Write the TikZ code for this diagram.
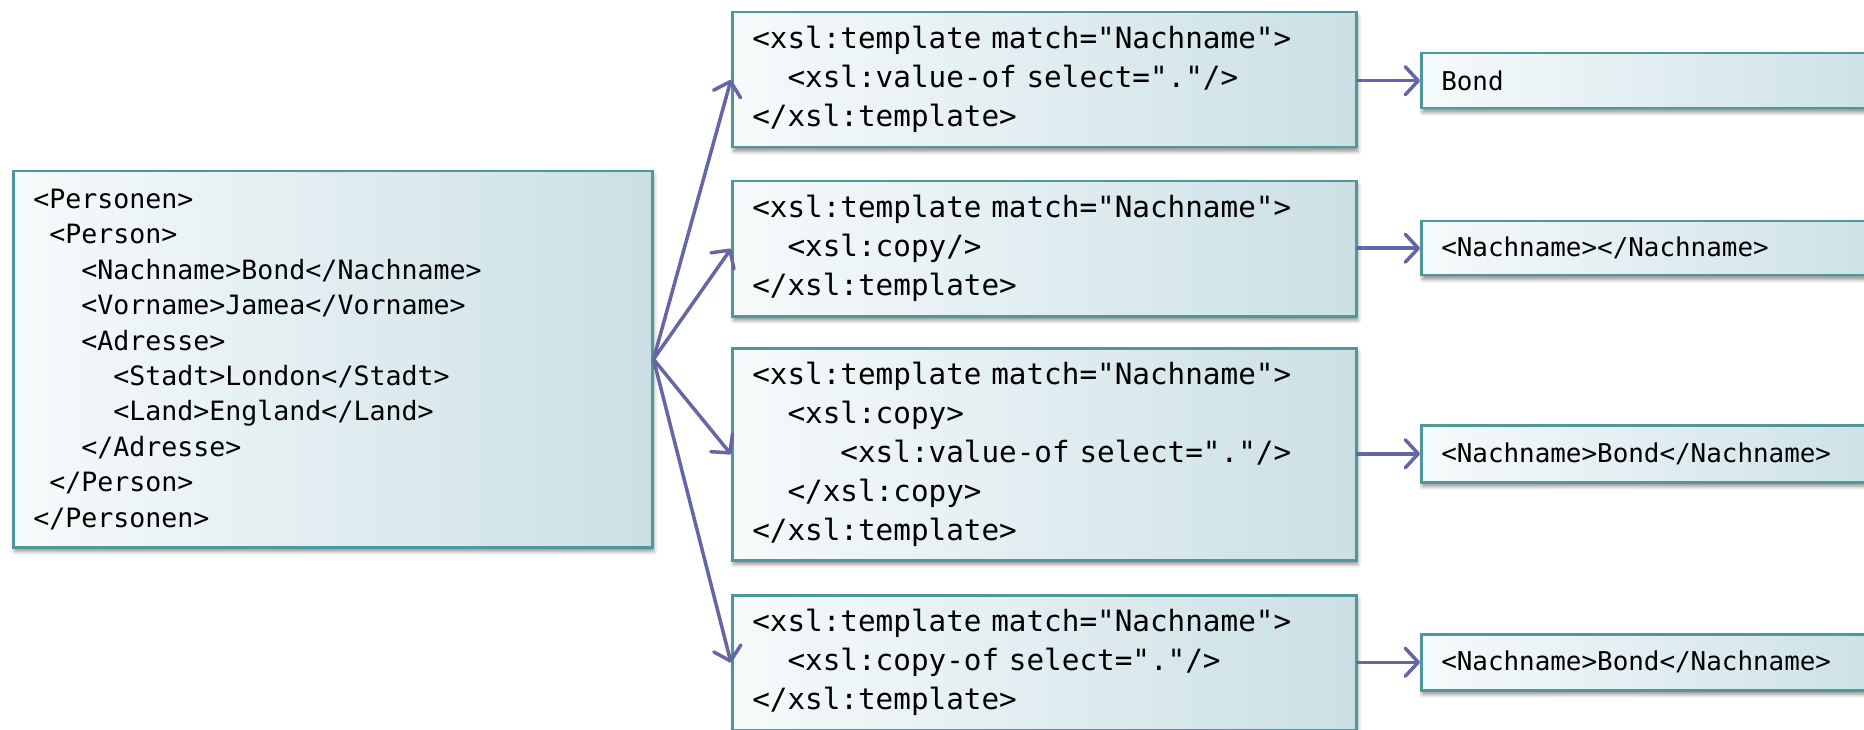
\documentclass[tikz,border=0pt]{standalone}
\usepackage{fontspec}
\setmonofont{DejaVu Sans Mono}
\usetikzlibrary{arrows.meta,shadows.blur}

\definecolor{frame}{HTML}{4F979B}
\definecolor{fillL}{HTML}{F6FAFB}
\definecolor{fillR}{HTML}{CBE0E5}
\definecolor{flow}{HTML}{6466A6}

% indentation by a number of monospaced characters
\newcommand\ind[1]{\hspace*{#1\fontcharwd\font`\x}}
% make an interword space exactly one character cell wide
\newcommand\monospace{\spaceskip=\fontcharwd\font`\x\relax\xspaceskip=\spaceskip}

\tikzset{
  codebox/.style={draw=frame, line width=2.5pt, left color=fillL, right color=fillR,
    anchor=north west, align=left, inner xsep=20pt, inner ysep=0pt,
    blur shadow={shadow xshift=1.5pt, shadow yshift=-4pt, shadow blur radius=4pt, shadow opacity=45}},
  srcfont/.style={font=\ttfamily\fontsize{26.6}{35.4}\selectfont\monospace},
  tplfont/.style={font=\ttfamily\fontsize{29.3}{39}\selectfont\monospace},
  outfont/.style={font=\ttfamily\fontsize{25.9}{31}\selectfont\monospace},
  flowarrow/.style={draw=flow, line width=3.5pt, line cap=round,
    -{Straight Barb[length=13pt,width=28pt,line cap=round,line join=round]}}
}

\begin{document}
\begin{tikzpicture}[x=1pt,y=1pt]
\clip (0,0) rectangle (1864,-730);

% source document
\node[codebox, srcfont, text width=599pt, minimum height=376pt] (src) at (12,-170) {%
<Personen>\\
\ind{1}<Person>\\
\ind{3}<Nachname>Bond</Nachname>\\
\ind{3}<Vorname>Jamea</Vorname>\\
\ind{3}<Adresse>\\
\ind{5}<Stadt>London</Stadt>\\
\ind{5}<Land>England</Land>\\
\ind{3}</Adresse>\\
\ind{1}</Person>\\
</Personen>};

% templates
\node[codebox, tplfont, text width=584pt, minimum height=135pt] (t1) at (731,-11) {%
<xsl:template match="Nachname">\\
\ind{2}<xsl:value-of select="."/>\\
</xsl:template>};

\node[codebox, tplfont, text width=584pt, minimum height=135pt] (t2) at (731,-180) {%
<xsl:template match="Nachname">\\
\ind{2}<xsl:copy/>\\
</xsl:template>};

\node[codebox, tplfont, text width=584pt, minimum height=212pt] (t3) at (731,-347) {%
<xsl:template match="Nachname">\\
\ind{2}<xsl:copy>\\
\ind{5}<xsl:value-of select="."/>\\
\ind{2}</xsl:copy>\\
</xsl:template>};

\node[codebox, tplfont, text width=584pt, minimum height=135pt] (t4) at (731,-594) {%
<xsl:template match="Nachname">\\
\ind{2}<xsl:copy-of select="."/>\\
</xsl:template>};

% results
\node[codebox, outfont, text width=440pt, minimum height=55pt] (r1) at (1420,-52) {Bond};
\node[codebox, outfont, text width=440pt, minimum height=54pt] (r2) at (1420,-220) {<Nachname></Nachname>};
\node[codebox, outfont, text width=440pt, minimum height=57pt] (r3) at (1420,-424) {<Nachname>Bond</Nachname>};
\node[codebox, outfont, text width=440pt, minimum height=56pt] (r4) at (1420,-633) {<Nachname>Bond</Nachname>};

% connectors
\foreach \t in {t1,t2,t3,t4}
  \draw[flowarrow] (src.east) -- (\t.west);
\foreach \t/\r in {t1/r1,t2/r2,t3/r3,t4/r4}
  \draw[flowarrow] (\t.east |- \r.west) -- (\r.west);
\end{tikzpicture}
\end{document}
